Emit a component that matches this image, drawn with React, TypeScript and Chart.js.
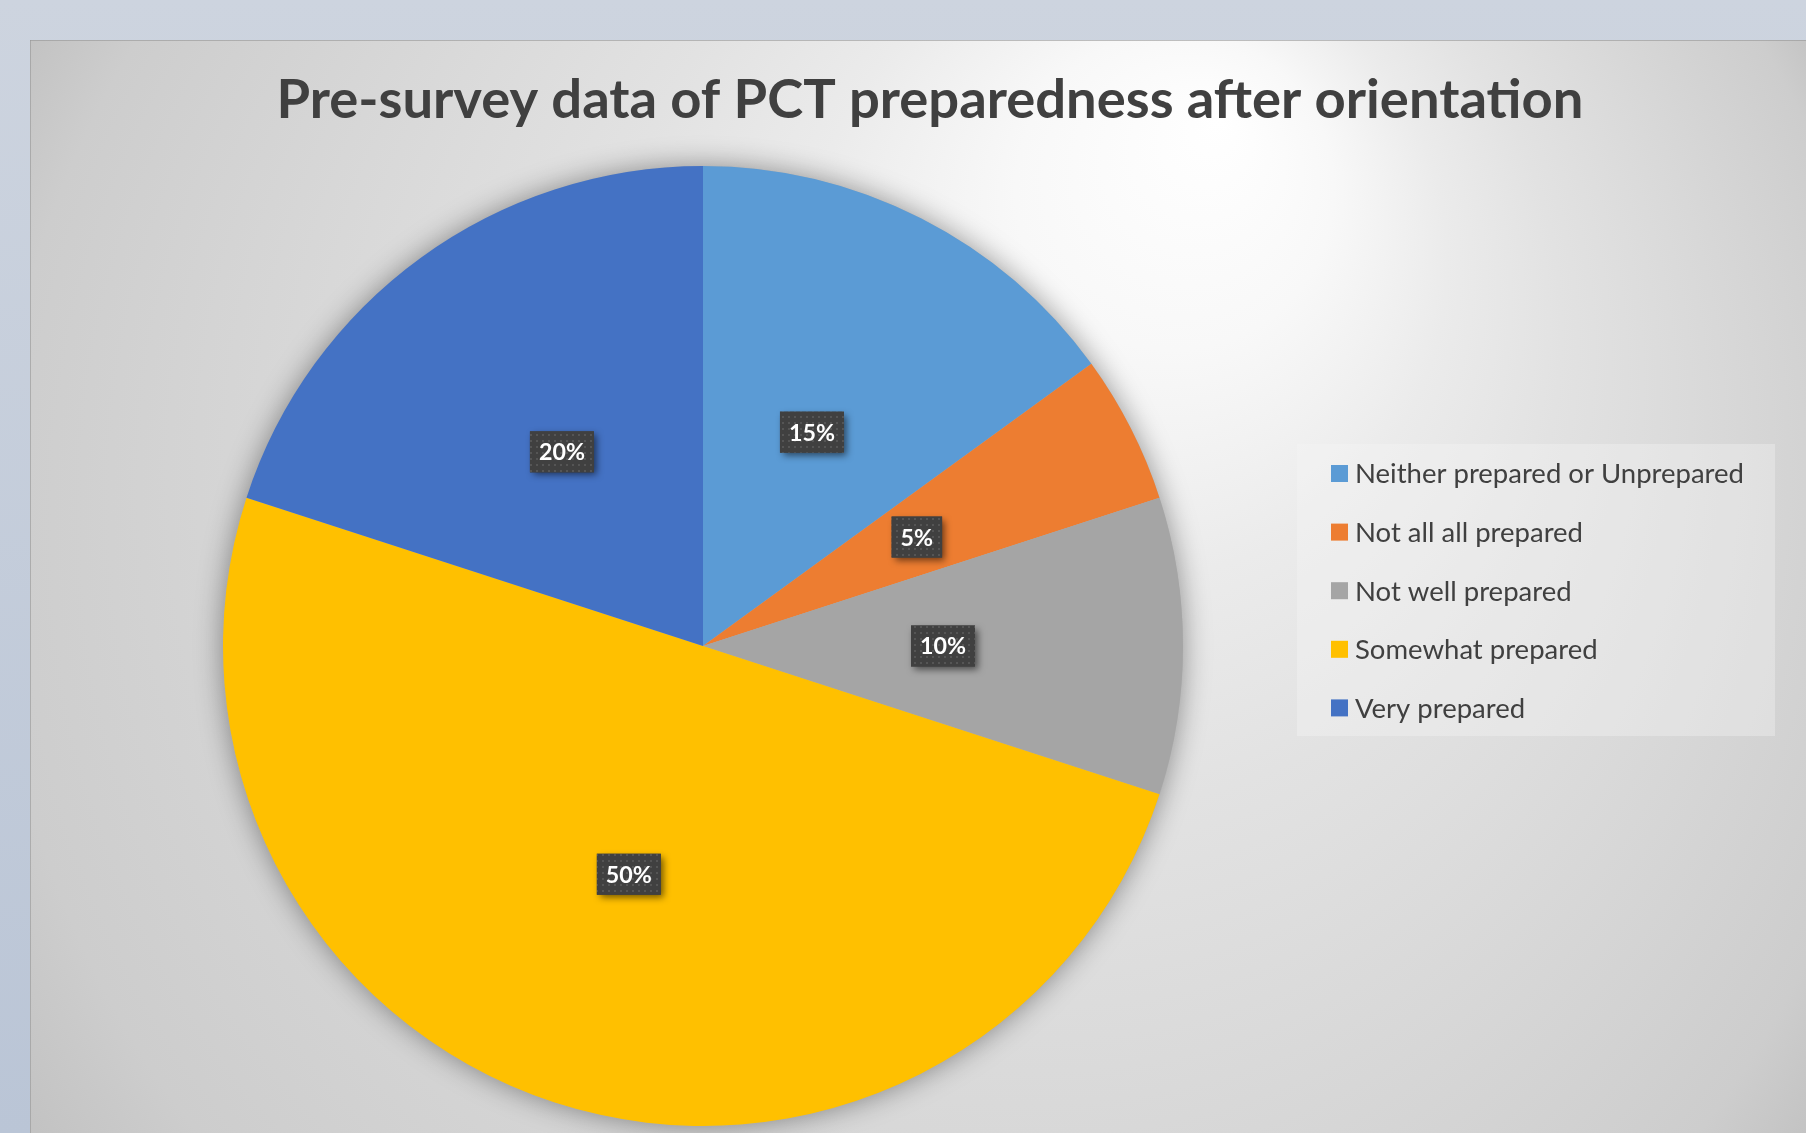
import React, { useEffect, useRef } from "react";
import { Chart, registerables } from "chart.js";

Chart.register(...registerables);

const categories = [
  "Neither prepared or Unprepared",
  "Not all all prepared",
  "Not well prepared",
  "Somewhat prepared",
  "Very prepared",
];
const values = [15, 5, 10, 50, 20];
const colors = ["#5B9BD5", "#ED7D31", "#A5A5A5", "#FFC000", "#4472C4"];
const titleText = "Pre-survey data of PCT preparedness after orientation";

const W = 1806;
const H = 1133;
const FONT = "Lato, 'Open Sans', 'Noto Sans', sans-serif";
const TEXT = "#404040";

function fitSize(ctx: CanvasRenderingContext2D, text: string, weight: string, target: number) {
  ctx.font = `${weight} 100px ${FONT}`;
  const w = ctx.measureText(text).width;
  return (100 * target) / w;
}

function makePattern(ctx: CanvasRenderingContext2D) {
  const c = document.createElement("canvas");
  c.width = 6;
  c.height = 6;
  const p = c.getContext("2d")!;
  p.fillStyle = "#404040";
  p.fillRect(0, 0, 6, 6);
  p.fillStyle = "#555555";
  p.fillRect(2, 2, 2, 2);
  return ctx.createPattern(c, "repeat");
}

const backgroundPlugin = {
  id: "bgPlugin",
  beforeDraw(chart: any) {
    const ctx: CanvasRenderingContext2D = chart.ctx;
    ctx.save();
    const og = ctx.createLinearGradient(0, 0, 0, H);
    og.addColorStop(0, "#CDD4DF");
    og.addColorStop(1, "#BAC5D6");
    ctx.fillStyle = og;
    ctx.fillRect(0, 0, W, H);
    const rg = ctx.createRadialGradient(1220, 120, 0, 918, 590, 1060);
    rg.addColorStop(0, "#FFFFFF");
    rg.addColorStop(0.15, "#F8F8F8");
    rg.addColorStop(0.3, "#EBEBEB");
    rg.addColorStop(0.45, "#E2E2E2");
    rg.addColorStop(0.75, "#D4D4D4");
    rg.addColorStop(0.9, "#CDCDCD");
    rg.addColorStop(1, "#C1C1C1");
    ctx.fillStyle = rg;
    ctx.fillRect(30, 40, W - 30, H - 40);
    ctx.fillStyle = "rgba(150,150,150,0.6)";
    ctx.fillRect(30, 40, W - 30, 1);
    ctx.fillRect(30, 40, 1, H - 40);
    // title
    const size = fitSize(ctx, titleText, "bold", 1307);
    ctx.font = `bold ${size}px ${FONT}`;
    ctx.fillStyle = TEXT;
    ctx.textAlign = "center";
    ctx.textBaseline = "alphabetic";
    ctx.fillText(titleText, 930, 118);
    ctx.restore();
  },
  beforeDatasetsDraw(chart: any) {
    const ctx: CanvasRenderingContext2D = chart.ctx;
    const arc = chart.getDatasetMeta(0).data[0];
    if (!arc) return;
    const { x, y, outerRadius } = arc.getProps(["x", "y", "outerRadius"], true);
    ctx.save();
    ctx.shadowColor = "rgba(0,0,0,0.4)";
    ctx.shadowBlur = 28;
    ctx.fillStyle = "#B0B0B0";
    ctx.beginPath();
    ctx.arc(x, y, outerRadius, 0, Math.PI * 2);
    ctx.fill();
    ctx.restore();
  },
  afterDatasetsDraw(chart: any) {
    const ctx: CanvasRenderingContext2D = chart.ctx;
    const meta = chart.getDatasetMeta(0);
    const total = values.reduce((a, b) => a + b, 0);
    const size = fitSize(ctx, "15%", "bold", 46);
    const pattern = makePattern(ctx);
    meta.data.forEach((arc: any, i: number) => {
      const pos = arc.tooltipPosition(true);
      const label = `${Math.round((values[i] / total) * 100)}%`;
      ctx.save();
      ctx.font = `bold ${size}px ${FONT}`;
      const tw = ctx.measureText(label).width;
      const bw = tw + 18;
      const bh = 41;
      const bx = pos.x - bw / 2;
      const by = pos.y - bh / 2;
      ctx.shadowColor = "rgba(0,0,0,0.55)";
      ctx.shadowBlur = 7;
      ctx.shadowOffsetX = 3;
      ctx.shadowOffsetY = 3;
      ctx.fillStyle = "#404040";
      ctx.fillRect(bx, by, bw, bh);
      ctx.shadowColor = "transparent";
      ctx.shadowBlur = 0;
      ctx.shadowOffsetX = 0;
      ctx.shadowOffsetY = 0;
      if (pattern) {
        ctx.fillStyle = pattern;
        ctx.fillRect(bx, by, bw, bh);
      }
      ctx.fillStyle = "#FFFFFF";
      ctx.textAlign = "center";
      ctx.textBaseline = "middle";
      ctx.fillText(label, pos.x, pos.y + 1);
      ctx.restore();
    });
  },
  afterDraw(chart: any) {
    const ctx: CanvasRenderingContext2D = chart.ctx;
    ctx.save();
    ctx.fillStyle = "rgba(245,245,245,0.35)";
    ctx.fillRect(1297, 444, 478, 292);
    const size = fitSize(ctx, categories[0], "normal", 389);
    ctx.font = `normal ${size}px ${FONT}`;
    ctx.textAlign = "left";
    ctx.textBaseline = "middle";
    categories.forEach((cat, i) => {
      const cy = 473.5 + i * 58.6;
      ctx.fillStyle = colors[i];
      ctx.fillRect(1331, cy - 8.5, 17, 17);
      ctx.fillStyle = TEXT;
      ctx.fillText(cat, 1355, cy + 1);
    });
    ctx.restore();
  },
};

export default function App() {
  const ref = useRef<HTMLCanvasElement | null>(null);
  useEffect(() => {
    if (!ref.current) return;
    const chart = new Chart(ref.current, {
      type: "pie",
      data: {
        labels: categories,
        datasets: [
          {
            data: values,
            backgroundColor: colors,
            borderWidth: 0,
          },
        ],
      },
      options: {
        animation: false,
        responsive: false,
        devicePixelRatio: 1,
        events: [],
        layout: { padding: { left: 223, right: 623, top: 166, bottom: 7 } },
        plugins: {
          legend: { display: false },
          tooltip: { enabled: false },
          title: { display: false },
        },
      },
      plugins: [backgroundPlugin],
    });
    return () => chart.destroy();
  }, []);
  return (
    <div style={{ position: "fixed", left: 0, top: 0, width: W, height: H, overflow: "hidden" }}>
      <canvas ref={ref} width={W} height={H} style={{ display: "block", width: W, height: H }} />
    </div>
  );
}
